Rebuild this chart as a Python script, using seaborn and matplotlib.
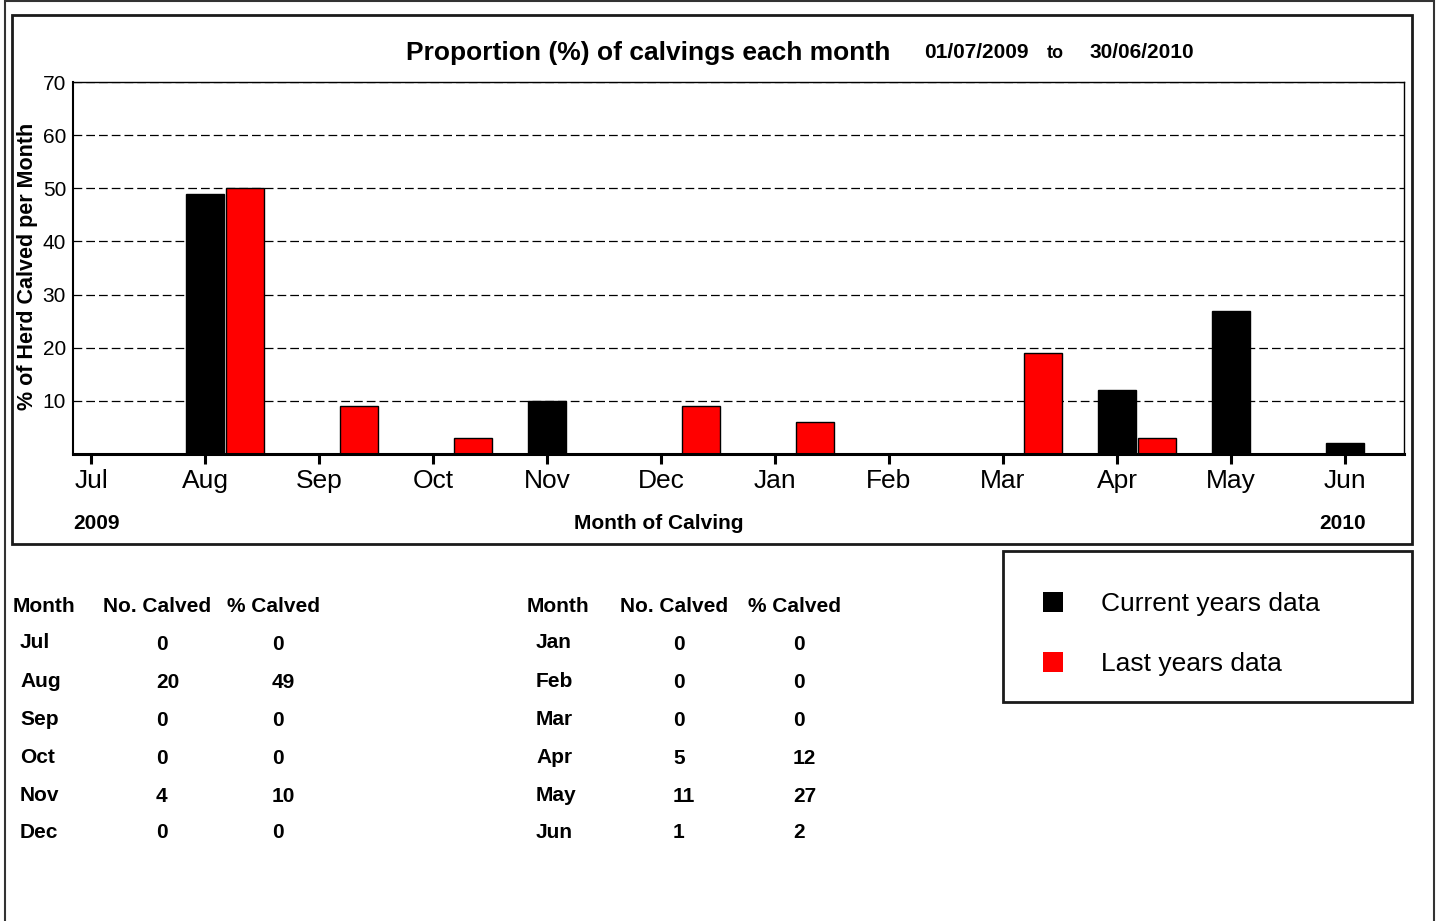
import numpy as np
import pandas as pd
import seaborn as sns
import matplotlib.pyplot as plt
from matplotlib.patches import Rectangle

# Chart data
months = ['Jul', 'Aug', 'Sep', 'Oct', 'Nov', 'Dec', 'Jan', 'Feb', 'Mar', 'Apr', 'May', 'Jun']
current_pct = [0, 49, 0, 0, 10, 0, 0, 0, 0, 12, 27, 2]
last_pct = [0, 50, 9, 3, 0, 9, 6, 0, 19, 3, 0, 0]
current_no = [0, 20, 0, 0, 4, 0, 0, 0, 0, 5, 11, 1]
series = ['Current years data', 'Last years data']
colors = ['#000000', '#ff0000']
y_ticks = [10, 20, 30, 40, 50, 60, 70]
start_year, end_year = '2009', '2010'
date_from, date_to = '01/07/2009', '30/06/2010'

df = pd.DataFrame({
    'Month': months * 2,
    'Percent': current_pct + last_pct,
    'Series': [series[0]] * len(months) + [series[1]] * len(months),
})

sns.set_theme(style='white')
plt.rcParams['font.family'] = ['Liberation Sans', 'DejaVu Sans']
plt.rcParams['text.color'] = 'black'
plt.rcParams['axes.labelcolor'] = 'black'
plt.rcParams['xtick.color'] = 'black'
plt.rcParams['ytick.color'] = 'black'

W, H = 1439, 921
fig = plt.figure(figsize=(W / 100, H / 100), dpi=100)
fig.patch.set_facecolor('white')


def fx(px):
    return px / W


def fy(py):
    return 1 - py / H


# Main bar chart
ax = fig.add_axes([fx(73), fy(454), fx(1404) - fx(73), fy(82) - fy(454)])
sns.barplot(data=df, x='Month', y='Percent', hue='Series', order=months,
            hue_order=series, palette=colors, width=0.7, gap=0.05,
            edgecolor='black', linewidth=1, saturation=1, errorbar=None,
            legend=False, ax=ax)

# black bar sits on the tick, red bar to its right
ax.set_xticks(np.arange(len(months)) - 0.175, months)
ax.set_xlim(-0.333, 11.343)
ax.set_ylim(0, 70)
ax.set_yticks(y_ticks)
ax.set_xlabel('')
ax.set_ylabel('')
ax.set_axisbelow(True)
ax.yaxis.grid(True, linestyle=(0, (7, 3.2)), color='black', linewidth=0.9)
ax.tick_params(axis='x', length=7, width=2.2, labelsize=19, pad=4,
               direction='out', bottom=True, colors='black')
ax.tick_params(axis='y', length=0, labelsize=15, pad=5, colors='black')
for side, lw in [('bottom', 2.2), ('left', 1.5), ('top', 1), ('right', 1)]:
    ax.spines[side].set_visible(True)
    ax.spines[side].set_color('black')
    ax.spines[side].set_linewidth(lw)

# Titles and labels
fig.text(fx(406), fy(53), 'Proportion (%) of calvings each month',
         fontsize=19, fontweight='bold', ha='left', va='center')
fig.text(fx(924), fy(53), date_from, fontsize=15, fontweight='bold', ha='left', va='center')
fig.text(fx(1047), fy(54), 'to', fontsize=13, fontweight='bold', ha='left', va='center')
fig.text(fx(1090), fy(53), date_to, fontsize=15, fontweight='bold', ha='left', va='center')
fig.text(fx(28), fy(266), '% of Herd Calved per Month', fontsize=15.5,
         fontweight='bold', rotation=90, ha='center', va='center')
fig.text(fx(659), fy(523), 'Month of Calving', fontsize=15, fontweight='bold',
         ha='center', va='center')
fig.text(fx(73), fy(523), start_year, fontsize=15, fontweight='bold', ha='left', va='center')
fig.text(fx(1366), fy(523), end_year, fontsize=15, fontweight='bold', ha='right', va='center')

# Borders
fig.add_artist(Rectangle((fx(5), fy(940)), fx(1434) - fx(5), fy(1) - fy(940),
                         transform=fig.transFigure, fill=False, lw=1.5, edgecolor='#333333'))
fig.add_artist(Rectangle((fx(12), fy(544)), fx(1412) - fx(12), fy(15) - fy(544),
                         transform=fig.transFigure, fill=False, lw=2, edgecolor='#1a1a1a'))

# Tables
row_y = [643, 681, 719, 757, 795, 832]
tables = [(months[:6], current_no[:6], current_pct[:6], 13, 103, 227, 20, 156, 272),
          (months[6:], current_no[6:], current_pct[6:], 527, 620, 748, 536, 673, 793)]
for names, nos, pcts, hx1, hx2, hx3, cx1, cx2, cx3 in tables:
    for hx, txt in [(hx1, 'Month'), (hx2, 'No. Calved'), (hx3, '% Calved')]:
        fig.text(fx(hx), fy(607), txt, fontsize=15, fontweight='bold', ha='left', va='center')
    for y, name, no, pct in zip(row_y, names, nos, pcts):
        fig.text(fx(cx1), fy(y), name, fontsize=15, fontweight='bold', ha='left', va='center')
        fig.text(fx(cx2), fy(y + 1), str(no), fontsize=15, fontweight='bold', ha='left', va='center')
        fig.text(fx(cx3), fy(y + 1), str(pct), fontsize=15, fontweight='bold', ha='left', va='center')

# Legend box
fig.add_artist(Rectangle((fx(1003), fy(702)), fx(1412) - fx(1003), fy(551) - fy(702),
                         transform=fig.transFigure, fill=False, lw=2, edgecolor='#1a1a1a'))
for (y, label), color in zip([(602, series[0]), (662, series[1])], colors):
    fig.add_artist(Rectangle((fx(1043), fy(y + 10)), fx(1063) - fx(1043), fy(y - 10) - fy(y + 10),
                             transform=fig.transFigure, facecolor=color, edgecolor='none'))
    fig.text(fx(1101), fy(y + 2), label, fontsize=19, ha='left', va='center')

fig.savefig('out.png', dpi=100)
